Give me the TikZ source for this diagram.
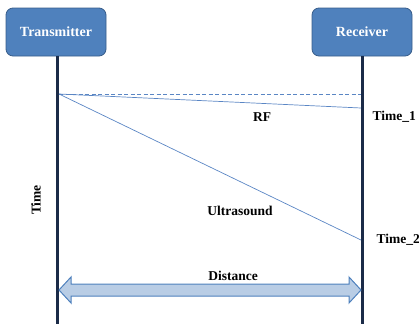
\documentclass[tikz,border=0pt]{standalone}
\usepackage{fontspec}
\setmainfont{Liberation Serif}
\usepackage{xcolor}
\usetikzlibrary{arrows, calc, positioning}
\definecolor{boxFill}{HTML}{4F81BD}
\definecolor{boxLine}{HTML}{385D8A}
\definecolor{lifeLine}{HTML}{1B2B48}
\definecolor{signal}{HTML}{5A86C4}
\definecolor{arrowFill}{HTML}{B9CDE5}
\def\txX{57}
\def\rxX{362}
\def\startY{94}
\tikzset{
  actor/.style={draw=boxLine, fill=boxFill, line width=0.8pt, rounded corners=7pt,
    minimum width=100pt, minimum height=48pt, text=white, font=\bfseries\fontsize{14}{16}\selectfont},
  life/.style={draw=lifeLine, line width=3pt},
  sig/.style={draw=signal, line width=0.7pt},
  lbl/.style={font=\bfseries\fontsize{13.5}{15}\selectfont}
}
\begin{document}
\begin{tikzpicture}[x=1pt, y=-1pt]
            \useasboundingbox (0,0) rectangle (419,324);
            % Draw actors
            \node[actor] (tx) at (56,32) {Transmitter};
            \node[actor] (rx) at (362,32) {Receiver};

            % Draw lifelines
            \coordinate (txEnd) at (\txX,324);
            \coordinate (rxEnd) at (\rxX,324);
            \draw[life] (tx.south -| txEnd) -- (txEnd);
            \draw[life] (rx.south -| rxEnd) -- (rxEnd);

            % Draw signals
            \coordinate (start) at (\txX + 2,\startY);
            \coordinate (ref) at (\rxX - 1,\startY);
            \coordinate (t1) at (\rxX - 1,108);
            \coordinate (t2) at (\rxX - 1,240);
            \draw[sig, dashed, dash pattern=on 4pt off 2.5pt] (start) -- (ref);
            \draw[sig] (start) -- (t1);
            \draw[sig] (start) -- (t2);

            % Draw labels
            \node[lbl] (rf) at (262,117) {RF};
            \node[lbl] (us) at (240,211) {Ultrasound};
            \node[lbl, anchor=west] (time1) at (369,117) {Time\_1};
            \node[lbl, anchor=west] (time2) at (373,240) {Time\_2};
            \node[lbl, rotate=90] (time) at (36,200) {Time};

            % Draw distance arrow
            \pgfmathsetmacro{\arrowY}{290}
            \coordinate (dl) at (\txX + 2,\arrowY);
            \coordinate (dr) at (\rxX - 1,\arrowY);
            \draw[draw=boxFill, fill=arrowFill, line width=1pt, line join=miter]
              (dl) -- ($(dl)+(12,-13)$) -- ($(dl)+(12,-6)$) -- ($(dr)+(-12,-6)$) -- ($(dr)+(-12,-13)$)
              -- (dr) -- ($(dr)+(-12,13)$) -- ($(dr)+(-12,6)$) -- ($(dl)+(12,6)$) -- ($(dl)+(12,13)$) -- cycle;
            \node[lbl] (dist) at (233,276) {Distance};

        \end{tikzpicture}
\end{document}
